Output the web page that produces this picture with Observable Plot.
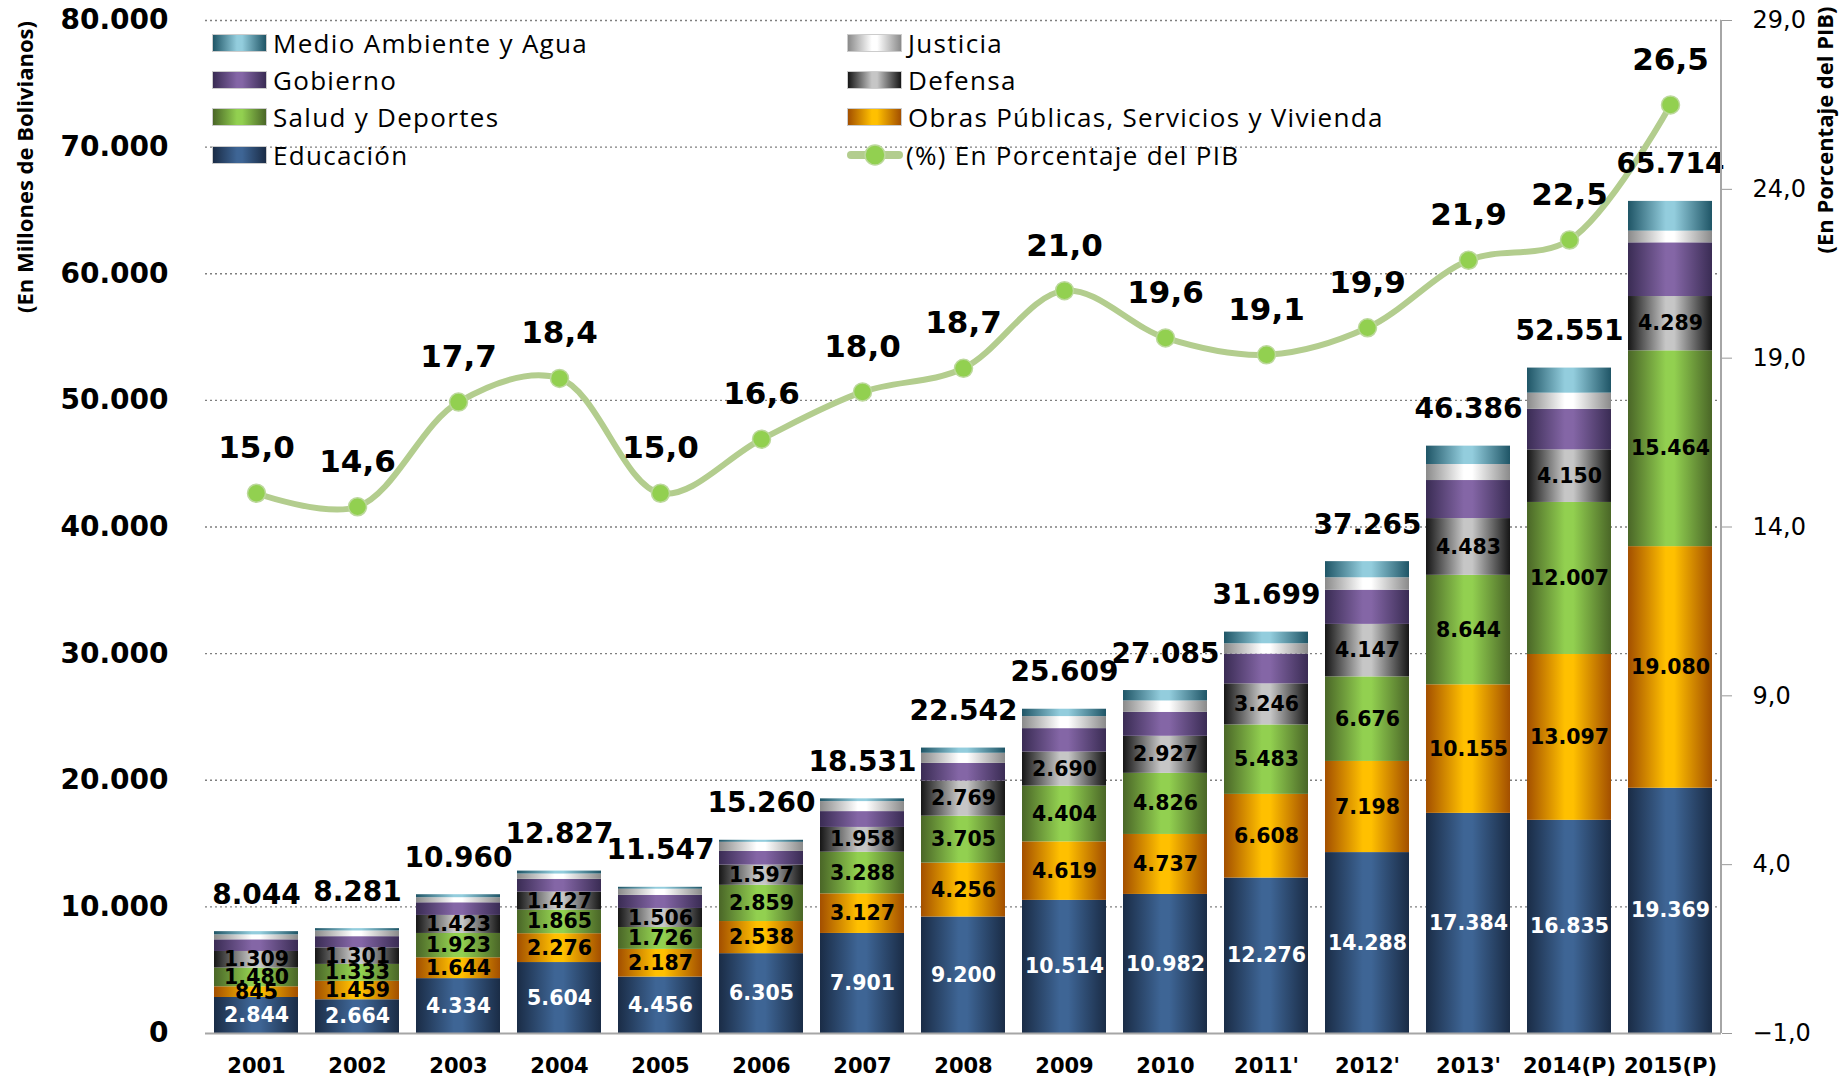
<!DOCTYPE html>
<html><head><meta charset="utf-8">
<script src="https://cdn.jsdelivr.net/npm/d3@7"></script>
<script src="https://cdn.jsdelivr.net/npm/@observablehq/plot@0.6"></script>
<style>
body{margin:0;background:#fff;}
#wrap{position:relative;width:1841px;height:1084px;overflow:hidden;}
.item{position:absolute;display:flex;align-items:center;white-space:nowrap;height:36px;font-family:"Open Sans",sans-serif;font-size:26px;letter-spacing:1.3px;color:#000;}
.sw{width:53px;height:16px;margin-right:6px;flex:none;}
</style></head><body><div id="wrap"></div>
<script>
const years = ["2001","2002","2003","2004","2005","2006","2007","2008","2009","2010","2011'","2012'","2013'","2014(P)","2015(P)"];
const educacion     = [2844,2664,4334,5604,4456,6305,7901,9200,10514,10982,12276,14288,17384,16835,19369];
const obras         = [845,1459,1644,2276,2187,2538,3127,4256,4619,4737,6608,7198,10155,13097,19080];
const salud         = [1480,1333,1923,1865,1726,2859,3288,3705,4404,4826,5483,6676,8644,12007,15464];
const defensa       = [1309,1301,1423,1427,1506,1597,1958,2769,2690,2927,3246,4147,4483,4150,4289];
const gobierno      = [920,890,1000,1000,1030,1080,1250,1400,1850,1890,2350,2700,3004,3200,4240];
const justicia      = [390,450,400,420,490,720,790,800,950,900,815,980,1265,1280,920];
const medioAmbiente = [256,184,236,235,152,161,217,412,582,823,921,1276,1451,1982,2352];
const totales       = [8044,8281,10960,12827,11547,15260,18531,22542,25609,27085,31699,37265,46386,52551,65714];
const pib           = [15.0,14.6,17.7,18.4,15.0,16.6,18.0,18.7,21.0,19.6,19.1,19.9,21.9,22.5,26.5];
const categorias = ["Educación","Obras Públicas, Servicios y Vivienda","Salud y Deportes","Defensa","Gobierno","Justicia","Medio Ambiente y Agua"];
const conEtiqueta = ["Educación","Obras Públicas, Servicios y Vivienda","Salud y Deportes","Defensa"];
const yTicks = [0,10000,20000,30000,40000,50000,60000,70000,80000];
const y2Ticks = [-1,4,9,14,19,24,29];
const y2Domain = [-1,29];
const yDomain = [0,80000];

const series = [educacion, obras, salud, defensa, gobierno, justicia, medioAmbiente];
const grads = [
  ["g0","#1a2c46","#3e6595"],
  ["g1","#a34f00","#ffc000"],
  ["g2","#4a6627","#92d050"],
  ["g3","#161616","#c6c6c6"],
  ["g4","#3a2c54","#8466a6"],
  ["g5","#8a8a8a","#ffffff"],
  ["g6","#1f5566","#93cddd"]
];

const loc = d3.formatLocale({decimal: ",", thousands: ".", grouping: [3], currency: ["", ""]});
const fInt = loc.format(",d");
const fDec = loc.format(",.1f");
const toY = v => (v - y2Domain[0]) / (y2Domain[1] - y2Domain[0]) * (yDomain[1] - yDomain[0]) + yDomain[0];
const fromY = y => (y - yDomain[0]) / (yDomain[1] - yDomain[0]) * (y2Domain[1] - y2Domain[0]) + y2Domain[0];

const rows = [];
years.forEach((yr, i) => categorias.forEach((c, j) => rows.push({year: yr, cat: c, value: series[j][i]})));
const tot = years.map((yr, i) => ({year: yr, total: totales[i], pib: pib[i]}));

const num = "DejaVu Sans, Verdana, sans-serif";
const W = 1841, H = 1084, ML = 205, MR = 120, MT = 20, MB = 51;

const plot = Plot.plot({
  width: W, height: H,
  marginLeft: ML, marginRight: MR, marginTop: MT, marginBottom: MB,
  style: {fontFamily: num, background: "#fff"},
  x: {domain: years, paddingInner: 0.17, paddingOuter: 0.085},
  y: {domain: yDomain},
  color: {type: "ordinal", domain: categorias, range: grads.map(g => `url(#${g[0]})`)},
  marks: [
    Plot.gridY(yTicks.filter(d => d > 0), {stroke: "#7f7f7f", strokeOpacity: 1, strokeDasharray: "2,3", strokeWidth: 1.3}),
    Plot.axisY(yTicks, {tickSize: 0, tickPadding: 37, tickFormat: fInt, fontSize: 28, fontWeight: "bold", label: null}),
    Plot.barY(rows, Plot.stackY({x: "year", y: "value", fill: "cat"})),
    Plot.text(rows, Plot.stackY({x: "year", y: "value", text: d => d.cat === categorias[0] ? fInt(d.value) : null, fill: "white", fontSize: 20.5, fontWeight: "bold"})),
    Plot.text(rows, Plot.stackY({x: "year", y: "value", text: d => d.cat !== categorias[0] && conEtiqueta.includes(d.cat) ? fInt(d.value) : null, fill: "black", fontSize: 20.5, fontWeight: "bold"})),
    Plot.ruleY([0], {stroke: "#a6a6a6", strokeWidth: 2}),
    Plot.line(tot, {x: "year", y: d => toY(d.pib), curve: "catmull-rom", stroke: "#b3cd8e", strokeWidth: 6}),
    Plot.dot(tot, {x: "year", y: d => toY(d.pib), r: 9, fill: "#92d050", stroke: "#bcd89c", strokeWidth: 1.5}),
    Plot.text(tot, {x: "year", y: d => toY(d.pib), text: d => fDec(d.pib), dy: -45, fontSize: 31, fontWeight: "bold", fill: "black"}),
    Plot.text(tot, {x: "year", y: "total", text: d => fInt(d.total), dy: -37, fontSize: 28, fontWeight: "bold", fill: "black"}),
    Plot.axisX({tickSize: 0, tickPadding: 25, fontSize: 21, fontWeight: "bold", label: null}),
    Plot.axisY(y2Ticks.map(toY), {anchor: "right", tickSize: 10, tickPadding: 21, stroke: "#999", tickFormat: d => fDec(fromY(d)), fontSize: 24, label: null})
  ]
});

const svg = d3.select(plot);
const defs = svg.insert("defs", ":first-child");
grads.forEach(([id, edge, mid]) => {
  const g = defs.append("linearGradient").attr("id", id).attr("x1", 0).attr("x2", 1).attr("y1", 0).attr("y2", 0);
  g.append("stop").attr("offset", "0%").attr("stop-color", edge);
  g.append("stop").attr("offset", "45%").attr("stop-color", mid);
  g.append("stop").attr("offset", "55%").attr("stop-color", mid);
  g.append("stop").attr("offset", "100%").attr("stop-color", edge);
});
const ys = plot.scale("y");
svg.append("line").attr("x1", W - MR).attr("x2", W - MR).attr("y1", ys.apply(yDomain[0])).attr("y2", ys.apply(yDomain[1]))
  .attr("stroke", "#a6a6a6").attr("stroke-width", 2);
svg.append("text").attr("transform", "translate(27,167) rotate(-90)").attr("text-anchor", "middle").attr("dominant-baseline", "middle")
  .attr("font-size", 22).attr("font-weight", "bold").attr("font-family", "Open Sans, sans-serif").text("(En Millones de Bolivianos)");
svg.append("text").attr("transform", "translate(1827,130) rotate(-90)").attr("text-anchor", "middle").attr("dominant-baseline", "middle")
  .attr("font-size", 22).attr("font-weight", "bold").attr("font-family", "Open Sans, sans-serif").text("(En Porcentaje del PIB)");

const wrap = document.getElementById("wrap");
wrap.appendChild(plot);

const grad = (e, m) => `linear-gradient(to right, ${e} 0%, ${m} 45%, ${m} 55%, ${e} 100%)`;
const legend = [
  {label: categorias[6], g: grads[6], x: 212, y: 43},
  {label: categorias[4], g: grads[4], x: 212, y: 80},
  {label: categorias[2], g: grads[2], x: 212, y: 117},
  {label: categorias[0], g: grads[0], x: 212, y: 155},
  {label: categorias[5], g: grads[5], x: 847, y: 43},
  {label: categorias[3], g: grads[3], x: 847, y: 80},
  {label: categorias[1], g: grads[1], x: 847, y: 117},
  {label: "(%) En Porcentaje del PIB", line: true, x: 847, y: 155}
];
legend.forEach(it => {
  const d = document.createElement("div");
  d.className = "item";
  d.style.left = it.x + "px";
  d.style.top = (it.y - 18) + "px";
  if (it.line) {
    d.innerHTML = `<svg width="56" height="22" style="margin-right:3px;flex:none"><line x1="4" x2="52" y1="11" y2="11" stroke="#b3cd8e" stroke-width="8" stroke-linecap="round"/><circle cx="28" cy="11" r="10" fill="#92d050" stroke="#bcd89c" stroke-width="1.5"/></svg>`;
  } else {
    d.innerHTML = `<div class="sw" style="background:${grad(it.g[1], it.g[2])};border:1px solid #ccc"></div>`;
  }
  const s = document.createElement("span");
  s.textContent = it.label;
  d.appendChild(s);
  wrap.appendChild(d);
});
</script></body></html>
